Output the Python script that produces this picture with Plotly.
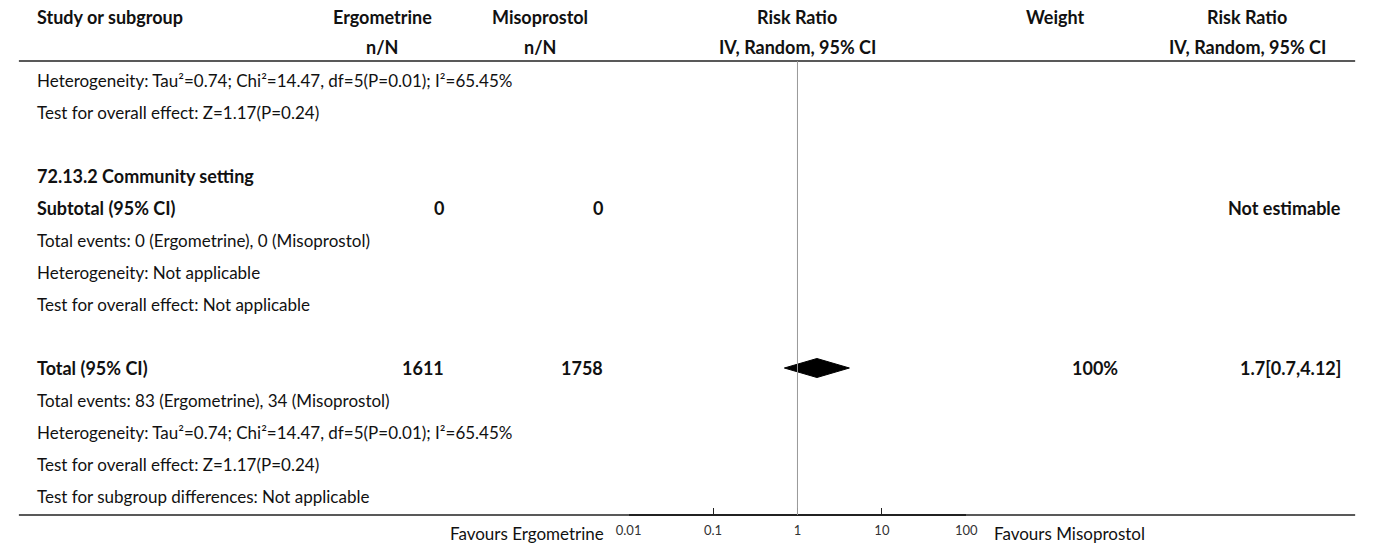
import plotly.graph_objects as go

W, H = 1375, 548

# ---------------- data ----------------
header_top = ["Study or subgroup", "Ergometrine", "Misoprostol", "Risk Ratio", "Weight", "Risk Ratio"]
header_sub = ["", "n/N", "n/N", "IV, Random, 95% CI", "", "IV, Random, 95% CI"]

het_text = "Heterogeneity: Tau²=0.74; Chi²=14.47, df=5(P=0.01); I²=65.45%"
row_labels = [
    het_text,
    "Test for overall effect: Z=1.17(P=0.24)",
    "",
    "72.13.2 Community setting",
    "Subtotal (95% CI)",
    "Total events: 0 (Ergometrine), 0 (Misoprostol)",
    "Heterogeneity: Not applicable",
    "Test for overall effect: Not applicable",
    "",
    "Total (95% CI)",
    "Total events: 83 (Ergometrine), 34 (Misoprostol)",
    het_text,
    "Test for overall effect: Z=1.17(P=0.24)",
    "Test for subgroup differences: Not applicable",
]
bold_rows = [3, 4, 9]
ergo_N = {4: "0", 9: "1611"}
miso_N = {4: "0", 9: "1758"}
weights = {9: "100%"}
rr_text = {4: "Not estimable", 9: "1.7[0.7,4.12]"}

total_row = 9
total_rr, total_lo, total_hi = 1.7, 0.7, 4.12

tick_vals = [0.01, 0.1, 1, 10, 100]
tick_text = ["0.01", "0.1", "1", "10", "100"]
favours_left = "Favours Ergometrine"
favours_right = "Favours Misoprostol"

# ---------------- layout helpers ----------------
FONT = "Lato"
FS = 17
FSB = 18
TXT = "#111"
ROW0, ROWH = 80.0, 32.0

def px(x):
    return x / W

def row_of(y):
    return (y - ROW0) / ROWH

ann = []
def add(text, x, r, anchor="left", bold=False, size=None, color=TXT):
    if size is None:
        size = FSB if bold else FS
    ann.append(dict(text=text, x=px(x), y=r, xref="paper", yref="y",
                    xanchor=anchor, yanchor="middle", showarrow=False,
                    font=dict(family=FONT, size=size, color=color,
                              weight="bold" if bold else "normal")))

# headers
r1, r2 = row_of(17), row_of(47)
add(header_top[0], 22, r1, "left", True)
add(header_top[1], 376, r1, "center", True)
add(header_top[2], 537, r1, "center", True)
add(header_top[3], 799, r1, "center", True)
add(header_top[4], 1062, r1, "center", True)
add(header_top[5], 1257, r1, "center", True)
add(header_sub[1], 376, r2, "center", True)
add(header_sub[2], 537, r2, "center", True)
add(header_sub[3], 799, r2, "center", True)
add(header_sub[5], 1257, r2, "center", True)

for i, lab in enumerate(row_labels):
    if lab:
        add(lab, 22, i, "left", bold=(i in bold_rows))
for i, v in ergo_N.items():
    add(v, 441, i, "right", True)
for i, v in miso_N.items():
    add(v, 603, i, "right", True)
for i, v in weights.items():
    add(v, 1128, i, "right", True)
for i, v in rr_text.items():
    add(v, 1355, i, "right", True)

r_fav = row_of(533)
add(favours_left, 604, r_fav, "right")
add(favours_right, 997, r_fav, "left")

fig = go.Figure()

# summary diamond
dh = 9.5 / ROWH
fig.add_trace(go.Scatter(
    x=[total_lo, total_rr, total_hi, total_rr, total_lo],
    y=[total_row, total_row - dh, total_row, total_row + dh, total_row],
    mode="lines", fill="toself", fillcolor="black",
    line=dict(color="black", width=1), hoverinfo="skip", showlegend=False))

top_line = row_of(61)
bot_line = row_of(515)
shapes = [
    dict(type="line", xref="paper", yref="y", x0=px(6), x1=px(1367), y0=top_line, y1=top_line,
         line=dict(color="#222", width=1.5)),
    dict(type="line", xref="paper", yref="y", x0=px(6), x1=px(1367), y0=bot_line, y1=bot_line,
         line=dict(color="#222", width=1.5)),
    dict(type="line", xref="x", yref="y", x0=1, x1=1, y0=top_line, y1=bot_line,
         line=dict(color="#999", width=1)),
]

fig.update_layout(
    width=W, height=H, margin=dict(l=0, r=0, t=0, b=0),
    paper_bgcolor="white", plot_bgcolor="white",
    annotations=ann, shapes=shapes, showlegend=False,
    xaxis=dict(type="log", domain=[px(627), px(971)], range=[-2, 2],
               anchor="free", position=1 - 515 / H,
               showgrid=False, zeroline=False, showline=True, linecolor="#222", linewidth=2,
               ticks="inside", ticklen=6, tickcolor="#222", tickwidth=1,
               tickvals=tick_vals, ticktext=tick_text, ticklabelstandoff=3,
               tickfont=dict(family=FONT, size=13, color="#333")),
    yaxis=dict(range=[row_of(H), row_of(0)], domain=[0, 1], visible=False,
               showgrid=False, zeroline=False),
)

fig.write_html("out.html", config={"displayModeBar": False},
               post_script="document.body.style.margin='0';document.body.style.overflow='hidden';")
